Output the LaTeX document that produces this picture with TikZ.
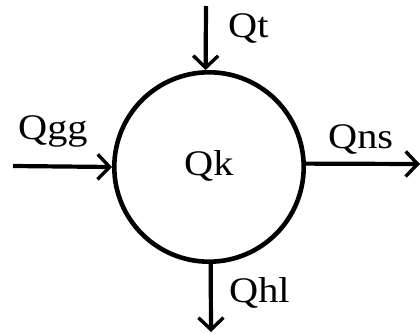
\documentclass[tikz,border=0pt]{standalone}
\usepackage{fontspec}
\setmainfont{Liberation Serif}
\usetikzlibrary{arrows.meta}
\begin{document}
\begin{tikzpicture}[x=1pt,y=1pt,
  flow/.style={line width=4.2pt, -{Straight Barb[length=12pt,width=25pt,line width=3.4pt]}},
  lbl/.style={inner sep=0pt, anchor=base west, font=\fontsize{36}{40}\selectfont},
  tank/.style={circle, draw, line width=4.6pt, minimum size=189.4pt, inner sep=0pt}]
  \useasboundingbox (0,0) rectangle (420,333);
  % central storage
  \node[tank] (k) at (209,166) {};
  \node[lbl] (qk) at (184,158) {\scalebox{1.12}[1]{Qk}};
  % flow ends
  \coordinate (top) at (206,327);
  \coordinate (left) at (13,167);
  \coordinate (right) at (420,169);
  \coordinate (bottom) at (211,1);
  % flows
  \draw[flow] (top) -- (k.92);
  \draw[flow] (left) -- (k.180);
  \draw[flow] (k.2) -- (right);
  \draw[flow] (k.271) -- (bottom);
  % labels
  \node[lbl] (qt) at (228,296) {\scalebox{1.12}[1]{Qt}};
  \node[lbl] (qgg) at (18,194) {\scalebox{1.12}[1]{Qgg}};
  \node[lbl] (qns) at (328,185) {\scalebox{1.12}[1]{Qns}};
  \node[lbl] (qhl) at (229,31) {\scalebox{1.12}[1]{Qhl}};
\end{tikzpicture}
\end{document}
